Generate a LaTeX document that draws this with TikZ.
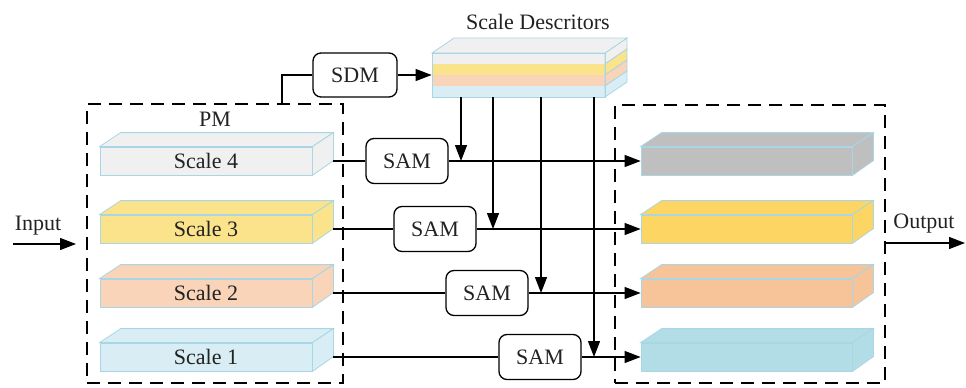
\documentclass[tikz,border=0pt]{standalone}
\usepackage{fontspec}
\setmainfont{Liberation Serif}
\usetikzlibrary{arrows.meta,calc}
\definecolor{edgeb}{HTML}{A9D6E4}
\definecolor{cgrey}{HTML}{F0F0F0}
\definecolor{cyel}{HTML}{FBE38C}
\definecolor{cpeach}{HTML}{F9D4B9}
\definecolor{cblue}{HTML}{D8EEF4}
\definecolor{ogrey}{HTML}{BFBFBF}
\definecolor{oyel}{HTML}{FDD562}
\definecolor{oorange}{HTML}{F7C398}
\definecolor{oblue}{HTML}{B2DDE7}
\definecolor{txt}{HTML}{222222}
\newcommand\blkfaces[2]{%
  \filldraw[fill=#2, draw=edgeb, line width=0.8pt] (#1.north west) -- ++(21,-14) -- ($(#1.north east)+(21,-14)$) -- (#1.north east) -- cycle;
  \filldraw[fill=#2, draw=edgeb, line width=0.8pt] (#1.north east) -- ++(21,-14) -- ++(0,28) -- (#1.south east) -- cycle;
}
\begin{document}
\begin{tikzpicture}[x=1pt,y=-1pt, font=\fontsize{22}{26}\selectfont,
  line width=1.3pt, >={Triangle[length=16pt,width=12pt]},
  every node/.append style={text=txt},
  blk/.style={draw=edgeb, line width=0.8pt, fill=#1, minimum width=212pt, minimum height=28pt, inner sep=0pt},
  sam/.style={draw, line width=1.3pt, rounded corners=8pt, fill=white, minimum width=82pt, minimum height=45pt, inner sep=0pt},
  dbox/.style={draw, line width=1.6pt, dash pattern=on 13pt off 8pt, inner sep=0pt}]
\useasboundingbox (0,0) rectangle (966,388);

% dashed boxes
\node[dbox, minimum width=256pt, minimum height=279pt] (pm) at (215,243.5) {};
\node[dbox, minimum width=270pt, minimum height=278pt] (ob) at (750,244) {};
\node (pmlabel) at (215,119) {PM};

% left blocks
\node[blk=cgrey] (s4) at (206,161) {Scale 4};
\node[blk=cyel] (s3) at (206,229) {Scale 3};
\node[blk=cpeach] (s2) at (206,293) {Scale 2};
\node[blk=cblue] (s1) at (206,357) {Scale 1};
\blkfaces{s4}{cgrey}
\blkfaces{s3}{cyel}
\blkfaces{s2}{cpeach}
\blkfaces{s1}{cblue}

% right blocks
\node[blk=ogrey, minimum width=211pt] (o4) at (746.5,161) {};
\node[blk=oyel, minimum width=211pt] (o3) at (746.5,229) {};
\node[blk=oorange, minimum width=211pt] (o2) at (746.5,293) {};
\node[blk=oblue, minimum width=211pt] (o1) at (746.5,357) {};
\blkfaces{o4}{ogrey}
\blkfaces{o3}{oyel}
\blkfaces{o2}{oorange}
\blkfaces{o1}{oblue}

% scale descriptors block
\begin{scope}[line width=0.8pt]
\fill[cgrey] (432,53) rectangle (605,64);
\fill[cyel] (432,64) rectangle (605,75);
\fill[cpeach] (432,75) rectangle (605,86);
\fill[cblue] (432,86) rectangle (605,97);
\filldraw[fill=cgrey, draw=edgeb] (605,53) -- (627,38) -- (627,49) -- (605,64) -- cycle;
\filldraw[fill=cyel, draw=edgeb] (605,64) -- (627,49) -- (627,60) -- (605,75) -- cycle;
\filldraw[fill=cpeach, draw=edgeb] (605,75) -- (627,60) -- (627,71) -- (605,86) -- cycle;
\filldraw[fill=cblue, draw=edgeb] (605,86) -- (627,71) -- (627,82) -- (605,97) -- cycle;
\filldraw[fill=cgrey, draw=edgeb] (432,53) -- (454,38) -- (627,38) -- (605,53) -- cycle;
\end{scope}
\node[draw=edgeb, line width=0.8pt, minimum width=173pt, minimum height=44pt, inner sep=0pt] (sd) at (518.5,75) {};
\node (sdtitle) at (538,22) {Scale Descritors};

% SDM and SAM
\node[sam, minimum width=84pt, minimum height=44pt] (sdm) at (355,75) {SDM};
\node[sam] (sam4) at (407,161) {SAM};
\node[sam] (sam3) at (435,229) {SAM};
\node[sam] (sam2) at (487,293) {SAM};
\node[sam] (sam1) at (540,357) {SAM};

% connectors
\coordinate (pmc) at (282,0);
\draw (pm.north -| pmc) |- (sdm.west);
\draw[->] (sdm.east) -- (sd.west |- sdm.east);

\draw ($(s4.east)+(21,0)$) -- (sam4.west);
\draw ($(s3.east)+(21,0)$) -- (sam3.west);
\draw ($(s2.east)+(21,0)$) -- (sam2.west);
\draw ($(s1.east)+(21,0)$) -- (sam1.west);
\draw[->] (sam4.east) -- (o4.west);
\draw[->] (sam3.east) -- (o3.west);
\draw[->] (sam2.east) -- (o2.west);
\draw[->] (sam1.east) -- (o1.west);

\coordinate (v1) at (461,0);
\coordinate (v2) at (493,0);
\coordinate (v3) at (541,0);
\coordinate (v4) at (594,0);
\draw[->] (sd.south -| v1) -- (v1 |- o4.west);
\draw[->] (sd.south -| v2) -- (v2 |- o3.west);
\draw[->] (sd.south -| v3) -- (v3 |- o2.west);
\draw[->] (sd.south -| v4) -- (v4 |- o1.west);

% input / output
\coordinate (inS) at (13,244);
\coordinate (inE) at (76,244);
\draw[->] (inS) -- (inE);
\node (intext) at (38,226) {Input};
\coordinate (outE) at (965,243);
\draw[->] (ob.east |- outE) -- (outE);
\node (outtext) at (924,224) {Output};
\end{tikzpicture}
\end{document}
